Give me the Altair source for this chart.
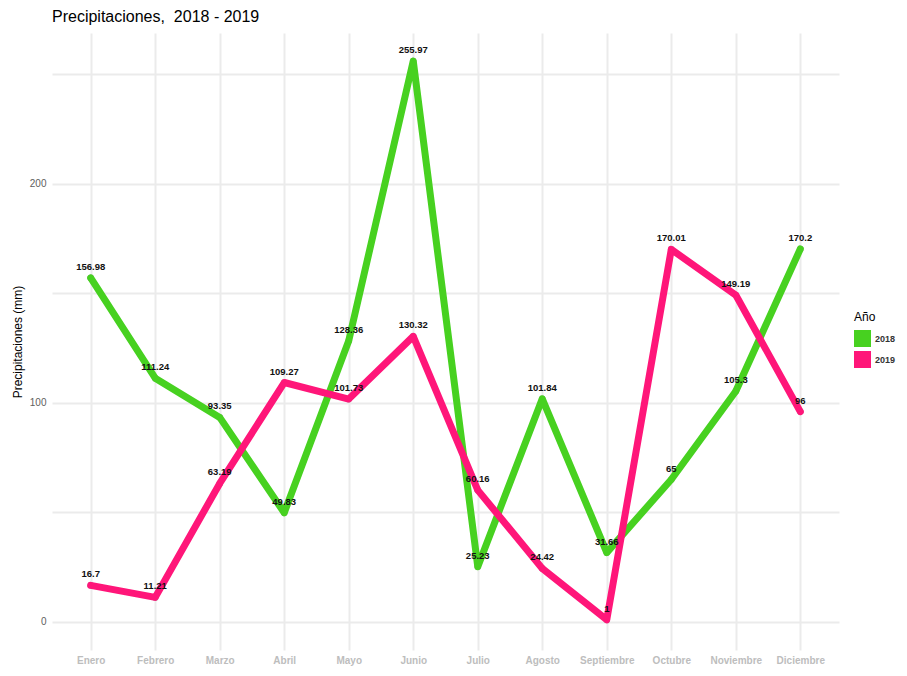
import altair as alt
import pandas as pd

meses = ["Enero", "Febrero", "Marzo", "Abril", "Mayo", "Junio", "Julio",
         "Agosto", "Septiembre", "Octubre", "Noviembre", "Diciembre"]
precip_2018 = [156.98, 111.24, 93.35, 49.83, 128.36, 255.97, 25.23, 101.84, 31.66, 65, 105.3, 170.2]
precip_2019 = [16.7, 11.21, 63.19, 109.27, 101.73, 130.32, 60.16, 24.42, 1, 170.01, 149.19, 96]
anios = ["2018", "2019"]
colores = ["#47D120", "#FF1679"]

rows = []
for i, m in enumerate(meses):
    rows.append({"Mes": m, "anio": "2018", "valor": precip_2018[i], "orden": i})
for i, m in enumerate(meses):
    rows.append({"Mes": m, "anio": "2019", "valor": precip_2019[i], "orden": i})
df = pd.DataFrame(rows)

FONT = "Liberation Sans"
GRID = "#EBEBEB"
ymax = max(precip_2018 + precip_2019)
ext = 0.05 * (ymax - 0)

x = alt.X("Mes:N", sort=meses, title="Mes",
          scale=alt.Scale(type="point", padding=0.6),
          axis=alt.Axis(labelFontWeight="bold", labelColor="#BDBDBD", labelFontSize=10,
                        labelPadding=5, titlePadding=3, titleFontSize=12,
                        titleFontWeight="normal", titleColor="black", labelAngle=0,
                        grid=True, gridColor=GRID, gridWidth=2, ticks=False, tickSize=0,
                        domain=False, labelFont=FONT, titleFont=FONT))
y = alt.Y("valor:Q", title="Precipitaciones (mm)",
          scale=alt.Scale(domain=[0 - ext, ymax + ext], nice=False, zero=False),
          axis=alt.Axis(values=[0, 50, 100, 150, 200, 250],
                        labelExpr="datum.value % 100 == 0 ? datum.label : ''",
                        labelColor="#5E5E5E", labelFontSize=10, labelPadding=6,
                        titleFontSize=12, titleFontWeight="normal", titleColor="black",
                        titlePadding=5, grid=True, gridColor=GRID, gridWidth=2,
                        ticks=False, tickSize=0, domain=False, labelFont=FONT, titleFont=FONT))

color_scale = alt.Scale(domain=anios, range=colores)

base = alt.Chart(df)

pts = base.mark_circle(size=45, color="#9E9E9E", opacity=1).encode(x=x, y=y, detail="anio:N")

legend_layer = base.mark_square(size=1, opacity=1, filled=True).encode(
    x=x, y=y,
    color=alt.Color("anio:N", scale=color_scale,
                    legend=alt.Legend(title="Año", symbolType="square", symbolSize=289,
                                      symbolStrokeWidth=0,
                                      titleFontSize=12, titleFont=FONT, labelFont=FONT,
                                      titleFontWeight="normal", titleColor="black",
                                      labelFontSize=9, labelFontWeight="bold",
                                      labelColor="#333333", labelOffset=4,
                                      orient="right", offset=-264, padding=279,
                                      titlePadding=6, rowPadding=4)))

lines = base.mark_line(strokeWidth=7, strokeCap="round", strokeJoin="round").encode(
    x=x, y=y,
    color=alt.Color("anio:N", scale=color_scale),
    order="orden:Q")

labels = base.mark_text(dy=-11, fontSize=9.5, fontWeight="bold", color="#111111",
                        font=FONT).encode(
    x=x, y=y, text=alt.Text("valor:Q", format=".6~g"))

chart = alt.layer(pts, lines, legend_layer, labels).properties(
    width=787, height=617,
    title=alt.Title("Precipitaciones,\u00a0 2018 - 2019", anchor="start", frame="group",
                    fontSize=16, fontWeight="normal", color="black", offset=8, font=FONT),
    autosize="none",
    padding={"left": 44, "top": 25, "right": 60, "bottom": 18},
).configure_view(strokeWidth=0)

chart.save("out.html", embed_options={"renderer": "svg", "actions": False})
